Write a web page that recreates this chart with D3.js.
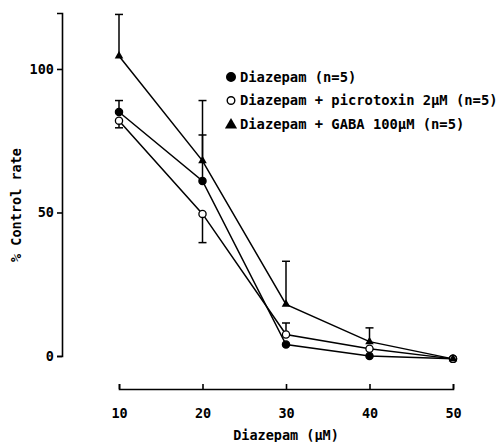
<!DOCTYPE html>
<html>
<head>
<meta charset="utf-8">
<script src="https://cdn.jsdelivr.net/npm/d3@7"></script>
<style>
  body { margin: 0; background: #fff; }
  svg { display: block; }
  text { font-family: "DejaVu Sans Mono", monospace; font-weight: bold; fill: #000; }
</style>
</head>
<body>
<svg width="503" height="442"></svg>
<script>
// data
var doses = [10, 20, 30, 40, 50];
var diazepam = [85, 61, 4, 0, -1];
var diazepamErr = [4, 16, 0, 0, 0];          // + = bar drawn up, - = bar drawn down
var picrotoxin = [82, 49.5, 7.5, 2.5, -1];
var picrotoxinErr = [-2.5, -10, 4, 0, 0];
var gaba = [104.5, 68, 18, 5, -1];
var gabaErr = [14.5, 21, 15, 4.8, 0];
var yTicks = [0, 50, 100];
var legendLabels = ["Diazepam (n=5)", "Diazepam + picrotoxin 2\u03bcM (n=5)", "Diazepam + GABA 100\u03bcM (n=5)"];

var series = [
  {name: legendLabels[0], values: diazepam, err: diazepamErr, marker: "filled"},
  {name: legendLabels[1], values: picrotoxin, err: picrotoxinErr, marker: "open"},
  {name: legendLabels[2], values: gaba, err: gabaErr, marker: "triangle"}
];

var svg = d3.select("svg");

var x = d3.scaleLinear().domain([10, 50]).range([119, 453]);
var y = d3.scaleLinear().domain([0, 119.5]).range([356, 13]);
var xAxisY = 389, yAxisX = 62;

// y axis, ticks pointing left
var yAxis = svg.append("g")
    .attr("transform", "translate(" + yAxisX + ",0)")
    .call(d3.axisLeft(y).tickValues(yTicks).tickSize(5).tickSizeOuter(5).tickPadding(3));
yAxis.selectAll("path, line").attr("stroke", "#000").attr("stroke-width", 1.6);
yAxis.selectAll("text").attr("font-size", 13.5).style("font-family", "DejaVu Sans Mono").style("font-weight", "bold");

// x axis, ticks pointing up, labels below
var xAxis = svg.append("g")
    .attr("transform", "translate(0," + xAxisY + ")")
    .call(d3.axisBottom(x).tickValues(doses).tickSize(-5).tickSizeOuter(-5));
xAxis.selectAll("path, line").attr("stroke", "#000").attr("stroke-width", 1.6);
xAxis.selectAll("text")
    .attr("y", 24)
    .attr("dy", "0.35em")
    .attr("font-size", 13.5)
    .style("font-family", "DejaVu Sans Mono").style("font-weight", "bold");

svg.append("text")
    .attr("x", 286)
    .attr("y", 440)
    .attr("text-anchor", "middle")
    .attr("font-size", 13.5)
    .text("Diazepam (\u03bcM)");

svg.append("text")
    .attr("transform", "translate(21,205) rotate(-90)")
    .attr("text-anchor", "middle")
    .attr("font-size", 13.5)
    .text("% Control rate");

var line = d3.line()
    .x(function(d, i) { return x(doses[i]); })
    .y(function(d) { return y(d); });

// error bars
series.forEach(function(s) {
  var eb = svg.append("g").attr("stroke", "#000").attr("stroke-width", 1.5);
  s.err.forEach(function(e, i) {
    if (!e) return;
    var cx = x(doses[i]), y0 = y(s.values[i]), y1 = y(s.values[i] + e);
    eb.append("line").attr("x1", cx).attr("x2", cx).attr("y1", y0).attr("y2", y1);
    eb.append("line").attr("x1", cx - 4).attr("x2", cx + 4).attr("y1", y1).attr("y2", y1);
  });
});

// lines
series.forEach(function(s) {
  svg.append("path")
      .datum(s.values)
      .attr("fill", "none")
      .attr("stroke", "#000")
      .attr("stroke-width", 1.5)
      .attr("d", line);
});

function drawMarker(g, kind, cx, cy) {
  if (kind === "triangle") {
    g.append("path")
        .attr("d", d3.symbol().type(d3.symbolTriangle).size(32)())
        .attr("transform", "translate(" + cx + "," + cy + ")")
        .attr("fill", "#000");
  } else {
    g.append("circle")
        .attr("cx", cx).attr("cy", cy)
        .attr("r", 3.6)
        .attr("fill", kind === "open" ? "#fff" : "#000")
        .attr("stroke", "#000")
        .attr("stroke-width", 1.3);
  }
}

// markers
series.forEach(function(s) {
  var g = svg.append("g");
  s.values.forEach(function(v, i) {
    drawMarker(g, s.marker, x(doses[i]), y(v));
  });
});

// legend
var legend = svg.append("g");
series.forEach(function(s, i) {
  var ly = 77 + i * 23.5;
  var lg = legend.append("g");
  if (s.marker === "triangle") {
    lg.append("path")
        .attr("d", d3.symbol().type(d3.symbolTriangle).size(64)())
        .attr("transform", "translate(231," + (ly + 1) + ")")
        .attr("fill", "#000");
  } else {
    lg.append("circle")
        .attr("cx", 231).attr("cy", ly)
        .attr("r", s.marker === "open" ? 3.8 : 4.3)
        .attr("fill", s.marker === "open" ? "#fff" : "#000")
        .attr("stroke", "#000")
        .attr("stroke-width", 1.4);
  }
  lg.append("text")
      .attr("x", 240)
      .attr("y", ly)
      .attr("dy", "0.35em")
      .attr("font-size", 13.8)
      .text(s.name);
});
</script>
</body>
</html>
